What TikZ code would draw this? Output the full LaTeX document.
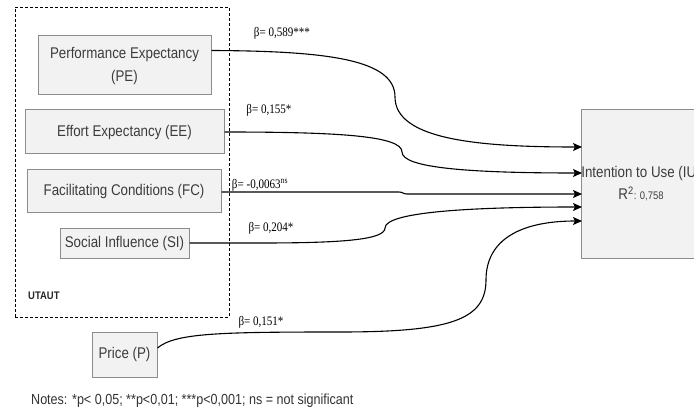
\documentclass[tikz,border=0pt]{standalone}
\usepackage{fontspec}
\setmainfont{Liberation Sans}
\newfontfamily\boxfont[FakeStretch=0.86]{Liberation Sans}
\newfontfamily\betafont[FakeStretch=0.85]{Liberation Serif}
\usetikzlibrary{arrows.meta,calc}
\definecolor{boxfill}{HTML}{F2F2F2}
\definecolor{boxline}{HTML}{8C8C8C}
\definecolor{boxtext}{HTML}{3C3C3C}
\begin{document}
\begin{tikzpicture}[x=1pt,y=-1pt,
  box/.style={draw=boxline, fill=boxfill, line width=1pt, inner sep=0pt, align=center,
    text=boxtext, font=\boxfont\fontsize{15.5}{23}\selectfont},
  conn/.style={line width=1.1pt, -{Stealth[length=9pt,width=8pt,inset=2pt]}},
  beta/.style={font=\betafont\fontsize{13}{15}\selectfont, inner sep=0pt},
  group/.style={draw, dashed, dash pattern=on 3pt off 2pt, line width=0.8pt, inner sep=0pt}]
\useasboundingbox (0,0) rectangle (694,417);
\fill[white] (0,0) rectangle (694,417);

% UTAUT group
\node[group, minimum width=214pt, minimum height=310pt] (utaut) at (122,162) {};
\node[anchor=west, inner sep=0pt, text=black!85, font=\boxfont\bfseries\fontsize{11}{13}\selectfont] (utlabel) at (28,296) {UTAUT};

% constructs
\node[box, minimum width=173pt, minimum height=59pt] (pe) at (124.5,65.5) {Performance Expectancy\\(PE)};
\node[box, minimum width=199pt, minimum height=44pt] (ee) at (124.5,132) {Effort Expectancy (EE)};
\node[box, minimum width=194pt, minimum height=43pt] (fc) at (124,191.5) {Facilitating Conditions (FC)};
\node[box, minimum width=129pt, minimum height=30pt] (si) at (124.5,243) {Social Influence (SI)};
\node[box, minimum width=65pt, minimum height=45pt] (pr) at (124.5,354.5) {Price (P)};
\node[box, minimum width=118pt, minimum height=148pt, font=\boxfont\fontsize{15.5}{22}\selectfont] (iu) at (641,184)
  {Intention to Use (IU)\\R\textsuperscript{2}{\fontsize{11}{13}\selectfont: 0,758}};

% arrival points on IU
\coordinate (t1) at (582,147);
\coordinate (t2) at (582,173);
\coordinate (t3) at (582,194);
\coordinate (t4) at (582,207);
\coordinate (t5) at (582,221);

% connectors
\draw[conn] ($(pe.north east)+(0,15)$) .. controls (330,51) and (395,60) .. (395,97)
  .. controls (395,140) and (480,147) .. (t1);
\draw[conn] (ee.east) .. controls (340,132) and (402,136) .. (402,152)
  .. controls (402,168) and (470,173) .. (t2);
\draw[conn] ($(fc.east)+(0,0.5)$) -- (399,192) .. controls (403,192) and (403,194) .. (407,194) -- (t3);
\draw[conn] (si.east) -- (260,243) .. controls (340,243) and (385,240) .. (385,228)
  .. controls (385,212) and (470,207) .. (t4);
\draw[conn] ($(pr.east)+(0,-6.5)$) .. controls (175,333) and (220,332) .. (340,332)
  .. controls (450,332) and (486,320) .. (486,280)
  .. controls (486,240) and (520,221) .. (t5);

% path coefficients
\node[beta] (b1) at (282,33) {β= 0,589***};
\node[beta] (b2) at (269,110) {β= 0,155*};
\node[beta] (b3) at (260,185) {β= -0,0063\textsuperscript{ns}};
\node[beta] (b4) at (271,228) {β= 0,204*};
\node[beta] (b5) at (261,322) {β= 0,151*};

% notes
\node[anchor=west, inner sep=0pt, text=black!80, font=\boxfont\fontsize{14.6}{17}\selectfont] (notes) at (31,401)
  {Notes: *p< 0,05; **p<0,01; ***p<0,001; ns = not significant};
\end{tikzpicture}
\end{document}
